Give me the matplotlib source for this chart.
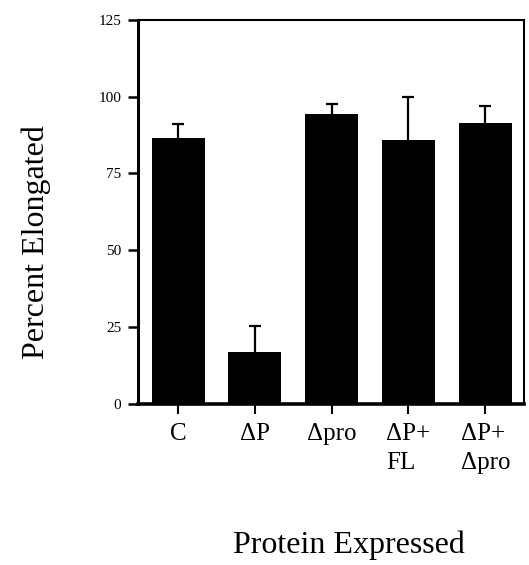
import matplotlib
matplotlib.use("Agg")
import matplotlib.pyplot as plt

plt.rcParams["font.family"] = ["Liberation Serif", "DejaVu Serif"]

categories = ["C", "\u0394P", "\u0394pro", "\u0394P+\nFL", "\u0394P+\n\u0394pro"]
percent = [86.5, 17, 94.5, 86, 91.5]
err_up = [4.5, 8.5, 3.2, 14, 5.3]
y_ticks = [0, 25, 50, 75, 100, 125]

fig = plt.figure(figsize=(5.29, 5.65), dpi=100)
ax = fig.add_axes([0.261, 0.285, 0.729, 0.680])

x = list(range(len(categories)))
ax.bar(x, percent, width=0.69, color="black", zorder=2)
_, caps, _ = ax.errorbar(x, percent, yerr=[[0] * len(x), err_up], fmt="none",
                         ecolor="black", elinewidth=1.6, capsize=4, capthick=1.6,
                         zorder=1)
caps[0].set_visible(False)  # only upper caps in the original

ax.set_xlim(-0.52, 4.5)
ax.set_ylim(0, 125)
ax.set_yticks(y_ticks)
ax.set_yticklabels([str(v) for v in y_ticks], fontsize=11)
ax.set_xticks(x)
ax.set_xticklabels(categories, fontsize=18, multialignment="left", linespacing=1.4)

ax.tick_params(axis="y", direction="out", length=7, width=1.8, pad=5)
ax.tick_params(axis="x", direction="out", length=7, width=1.5, pad=7)

ax.spines["left"].set_linewidth(2.2)
ax.spines["bottom"].set_linewidth(2.6)
ax.spines["top"].set_linewidth(1.5)
ax.spines["right"].set_linewidth(1.5)

fig.text(0.068, 0.572, "Percent Elongated", rotation=90, fontsize=23,
         ha="center", va="center")
fig.text(0.66, 0.035, "Protein Expressed", fontsize=23, ha="center", va="center")

fig.savefig("out.png", dpi=100)
plt.close(fig)
